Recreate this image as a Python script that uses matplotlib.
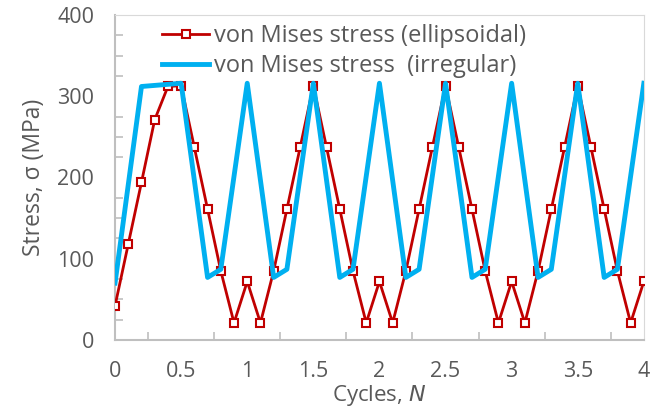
import matplotlib.pyplot as plt
import numpy as np
from matplotlib.ticker import MultipleLocator

# von Mises stress, ellipsoidal inclusion, sampled every 0.1 cycle
cyc_ell = np.round(np.arange(0, 4.01, 0.1), 2)
one_cycle = [72, 21, 85, 161, 237, 313, 237, 161, 85, 21]
vm_ell = [42, 118, 194, 271, 312, 313, 237, 161, 85, 21] + one_cycle * 3 + [72]

# von Mises stress, irregular inclusion
cyc_irr = [0, 0.2, 0.5, 0.7, 0.8, 1.0, 1.2, 1.3, 1.5, 1.7, 1.8, 2.0,
           2.2, 2.3, 2.5, 2.7, 2.8, 3.0, 3.2, 3.3, 3.5, 3.7, 3.8, 4.0]
vm_irr = [70, 312, 316, 77, 87, 316, 77, 87, 316, 77, 87, 316,
          77, 87, 316, 77, 87, 316, 77, 87, 316, 77, 87, 316]

xtick_labels = ['0', '0.5', '1', '1.5', '2', '2.5', '3', '3.5', '4']

plt.rcParams['font.family'] = ['Open Sans', 'DejaVu Sans']
txt = '#595959'

fig = plt.figure(figsize=(6.51, 4.12), dpi=100)
ax = fig.add_axes([0.1767, 0.1748, 0.8123, 0.7888])

ax.plot(cyc_ell, vm_ell, color='#c00000', lw=2, marker='s', ms=6,
        mfc='white', mec='#c00000', mew=1.5, zorder=3,
        label='von Mises stress (ellipsoidal)')
ax.plot(cyc_irr, vm_irr, color='#00b0f0', lw=3.5, zorder=4,
        label='von Mises stress  (irregular)')

ax.set_xlim(0, 4)
ax.set_ylim(0, 400)
ax.set_xticks(np.arange(0, 4.01, 0.5))
ax.set_xticklabels(xtick_labels)
ax.xaxis.set_minor_locator(MultipleLocator(0.25))
ax.yaxis.set_major_locator(MultipleLocator(100))
ax.yaxis.set_minor_locator(MultipleLocator(25))

ax.tick_params(which='both', direction='in', colors='#bfbfbf',
               labelcolor=txt, labelsize=15.5, width=1.2)
ax.tick_params(which='major', length=0)
ax.tick_params(axis='x', which='major', pad=15)
ax.tick_params(axis='y', which='major', pad=15)
ax.tick_params(which='minor', length=6)

for side in ['top', 'right']:
    ax.spines[side].set_color('#d9d9d9')
for side in ['left', 'bottom']:
    ax.spines[side].set_color('#bfbfbf')
    ax.spines[side].set_linewidth(1.5)

ax.set_xlabel('Cycles, $\\it{N}$', color=txt, fontsize=16, labelpad=1)
ax.set_ylabel('Stress, σ (MPa)', color=txt, fontsize=16.5, labelpad=8)

leg = ax.legend(loc='upper left', bbox_to_anchor=(0.071, 1.0), frameon=False,
                fontsize=17, handlelength=2.0, labelspacing=0.25,
                handletextpad=0.2, borderaxespad=0)
for t in leg.get_texts():
    t.set_color(txt)

fig.savefig('out.png', dpi=100)
